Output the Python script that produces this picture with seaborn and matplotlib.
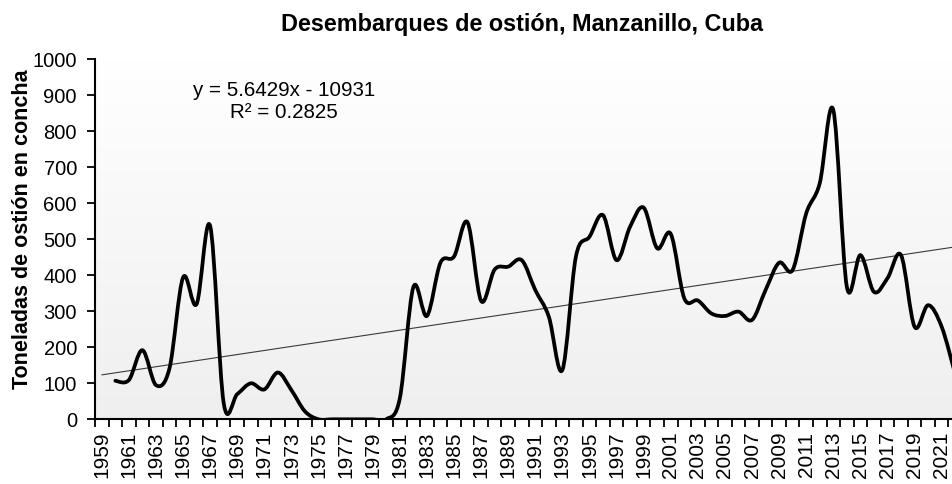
import numpy as np
import pandas as pd
import matplotlib
matplotlib.use("Agg")
import matplotlib.pyplot as plt
import seaborn as sns
from matplotlib.path import Path
from matplotlib.patches import PathPatch

# landings per year (1959 has no value)
years = list(range(1959, 2023))
tons = [np.nan, 107, 109, 192, 95, 142, 394, 320, 537, 45,
        70, 100, 83, 130, 81, 22, 0, 0, 0, 0,
        0, 0, 58, 367, 287, 435, 452, 547, 329, 416,
        424, 442, 359, 285, 137, 452, 507, 567, 442, 535,
        588, 475, 515, 336, 330, 294, 287, 299, 276, 359,
        435, 415, 572, 656, 859, 368, 456, 354, 392, 456,
        257, 317, 257, 125]
assert len(tons) == len(years)

# linear trend as printed on the chart
trend_slope = 5.6429
trend_intercept = -10931
eq_text = "y = 5.6429x - 10931\nR² = 0.2825"

label_years = list(range(1959, 2022, 2))

df = pd.DataFrame({"year": years, "tons": tons})
df["trend"] = trend_slope * df["year"] + trend_intercept

sns.set_theme(style="ticks")
plt.rcParams["font.family"] = ["Liberation Sans", "DejaVu Sans"]

fig = plt.figure(figsize=(9.53, 4.84), dpi=100)
ax = fig.add_axes([95 / 953, 64.7 / 484, 867 / 953, 360 / 484])

# background gradient, white at top to light grey at bottom
grad = np.linspace(1.0, 0.0, 256).reshape(-1, 1)
ax.imshow(grad, cmap=matplotlib.colors.LinearSegmentedColormap.from_list(
    "bg", ["#efefef", "#ffffff"]), aspect="auto", extent=[0, 1, 0, 1],
    transform=ax.transAxes, zorder=0)

# trend line
sns.lineplot(data=df, x="year", y="trend", color="#3a3a3a", linewidth=0.8,
             ax=ax, zorder=2)

# smoothed series (Bezier like a spreadsheet smoothed line)
d = df.dropna(subset=["tons"])
px = d["year"].to_numpy(dtype=float)
py = d["tons"].to_numpy(dtype=float)
verts = [(px[0], py[0])]
codes = [Path.MOVETO]
n = len(px)
for i in range(n - 1):
    p0 = np.array([px[max(i - 1, 0)], py[max(i - 1, 0)]])
    p1 = np.array([px[i], py[i]])
    p2 = np.array([px[i + 1], py[i + 1]])
    p3 = np.array([px[min(i + 2, n - 1)], py[min(i + 2, n - 1)]])
    c1 = p1 + (p2 - p0) / 6
    c2 = p2 - (p3 - p1) / 6
    verts += [tuple(c1), tuple(c2), tuple(p2)]
    codes += [Path.CURVE4] * 3
ax.add_patch(PathPatch(Path(verts, codes), facecolor="none", edgecolor="black",
                       linewidth=2.7, joinstyle="round", capstyle="round", zorder=3))

ax.set_xlim(1958.5, 2022.5)
ax.set_ylim(0, 1000)
ax.set_yticks(range(0, 1001, 100))

ax.set_xticks([y - 0.5 for y in years] + [2022.5])
ax.set_xticklabels([])
ax.set_xticks(label_years, minor=True)
ax.set_xticklabels([str(y) for y in label_years], minor=True, rotation=90)
ax.tick_params(axis="x", which="major", length=6, width=1.3, color="black", direction="out")
ax.tick_params(axis="x", which="minor", length=0, pad=9, labelsize=15, labelcolor="black")
ax.tick_params(axis="y", length=6, width=1.3, color="black", pad=7, labelsize=14.5,
               labelcolor="black")

for side in ["top", "right"]:
    ax.spines[side].set_visible(False)
for side in ["left", "bottom"]:
    ax.spines[side].set_color("black")
    ax.spines[side].set_linewidth(1.5)

ax.set_xlabel("")
ax.set_ylabel("Toneladas de ostión en concha", fontsize=15.5, fontweight="bold",
              color="black")
ax.yaxis.set_label_coords(-0.072, 0.529)
ax.set_title("")
fig.text(522 / 953, 1 - 24 / 484, "Desembarques de ostión, Manzanillo, Cuba",
         ha="center", va="center", fontsize=16.8, fontweight="bold", color="black")
ax.text(284 / 953, 1 - 102 / 484, eq_text, transform=fig.transFigure, ha="center",
        va="center", fontsize=14.8, color="black", linespacing=1.2, multialignment="center")

fig.savefig("out.png", dpi=100)
